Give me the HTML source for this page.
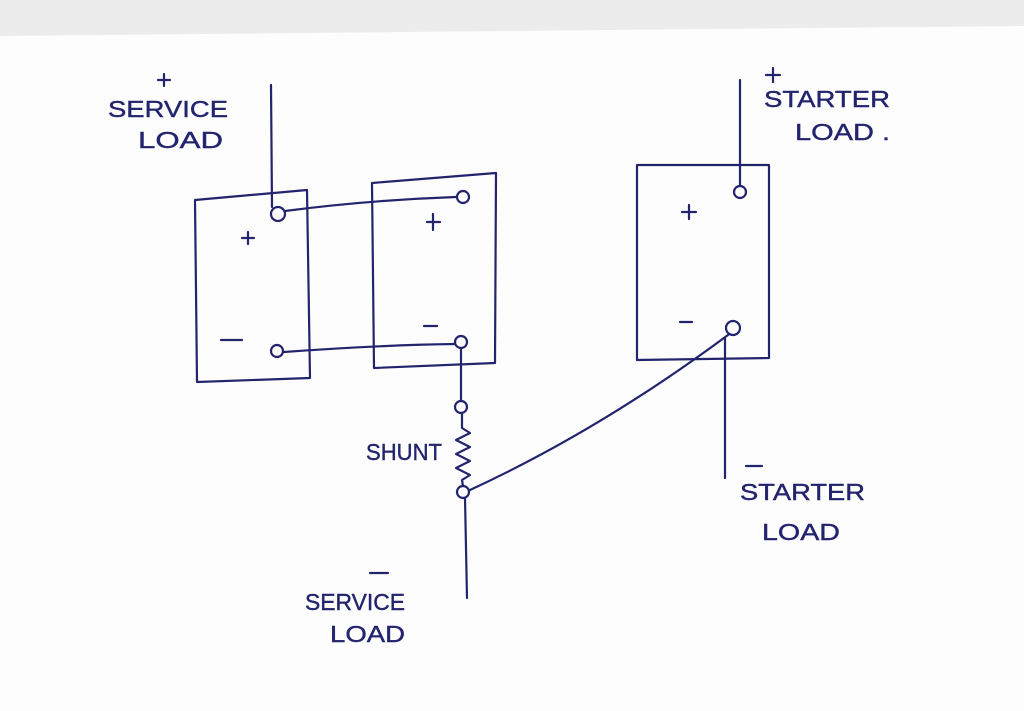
<!DOCTYPE html>
<html><head><meta charset="utf-8"><style>
html,body{margin:0;padding:0;background:#f4f4f4;}
svg{display:block}
text{font-family:"Liberation Sans",sans-serif;fill:#23246e;font-size:23px;stroke:#23246e;stroke-width:0.4;}
</style></head><body>
<svg width="1024" height="711" viewBox="0 0 1024 711" xmlns="http://www.w3.org/2000/svg">
<rect width="1024" height="711" fill="#ececec"/>
<polygon points="0,36 1024,26 1024,711 0,711" fill="#fdfdfd"/>
<g fill="none" stroke="#23246e" stroke-width="2.2" stroke-linecap="round" stroke-linejoin="round">
<polygon points="195,200 307,190 310,378 197,382"/>
<polygon points="372,183 496,173 495,363 374,368"/>
<polygon points="637,165 769,165 769,358 637,360"/>
<line x1="271" y1="85" x2="272" y2="207"/>
<circle cx="278" cy="214" r="7"/>
<path d="M285,211 Q370,200 456,197"/>
<circle cx="463" cy="197" r="6"/>
<circle cx="277" cy="351" r="6"/>
<path d="M284,352 Q380,345 455,344"/>
<circle cx="461" cy="342" r="6"/>
<line x1="461" y1="348" x2="461" y2="400"/>
<circle cx="461" cy="407" r="6"/>
<path d="M462,413 L462,428 L470,433 L456,440 L470,447 L456,454 L470,461 L456,468 L470,475 L462,480 L463,486"/>
<circle cx="463" cy="492" r="6"/>
<line x1="465" y1="498" x2="467" y2="598"/>
<path d="M470,490 Q600,430 728,335"/>
<line x1="740" y1="80" x2="740" y2="186"/>
<circle cx="740" cy="192" r="6"/>
<circle cx="733" cy="328" r="7"/>
<line x1="725" y1="338" x2="725" y2="478"/>
<path d="M242,238 H254 M248,232 V244"/>
<path d="M221,340 H242"/>
<path d="M427,222 H440 M433,214 V230"/>
<path d="M424,326 H437"/>
<path d="M682,212 H696 M689,205 V219"/>
<path d="M680,322 H692"/>
<path d="M158,80 H170 M164,74 V86"/>
<path d="M766,75 H780 M773,68 V82"/>
<path d="M746,466 H762"/>
<path d="M370,573 H388"/>
</g>
<text x="108" y="117" textLength="120" lengthAdjust="spacingAndGlyphs">SERVICE</text>
<text x="138" y="148" textLength="85" lengthAdjust="spacingAndGlyphs">LOAD</text>
<text x="764" y="107" textLength="126" lengthAdjust="spacingAndGlyphs">STARTER</text>
<text x="795" y="140" textLength="95" lengthAdjust="spacingAndGlyphs">LOAD .</text>
<text x="366" y="460" textLength="76" lengthAdjust="spacingAndGlyphs">SHUNT</text>
<text x="740" y="500" textLength="125" lengthAdjust="spacingAndGlyphs">STARTER</text>
<text x="762" y="540" textLength="78" lengthAdjust="spacingAndGlyphs">LOAD</text>
<text x="305" y="610" textLength="100" lengthAdjust="spacingAndGlyphs">SERVICE</text>
<text x="330" y="642" textLength="75" lengthAdjust="spacingAndGlyphs">LOAD</text>
</svg>
</body></html>
